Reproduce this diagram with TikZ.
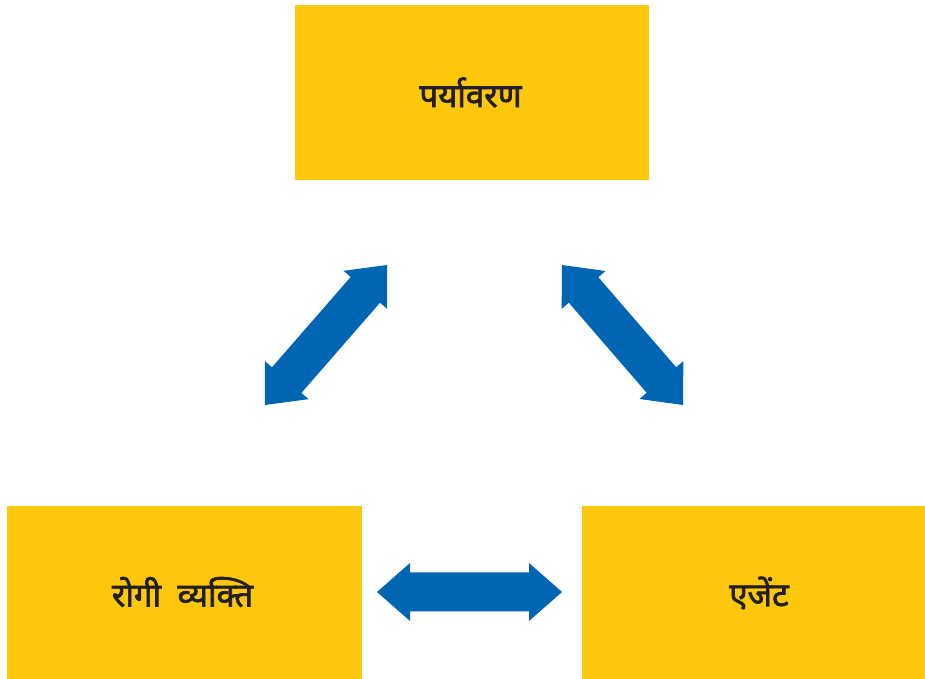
\documentclass[tikz,border=0pt]{standalone}
\usepackage{fontspec}
\newfontfamily\deva[Script=Devanagari, FakeBold=2.2]{Noto Sans}
\usetikzlibrary{calc}
\definecolor{boxyellow}{HTML}{FDC80C}
\definecolor{arrowblue}{HTML}{0066B3}
\definecolor{txt}{HTML}{231F20}
\tikzset{
  box/.style={fill=boxyellow, draw=none},
  lbl/.style={font=\deva\fontsize{33}{38}\selectfont, text=txt, inner sep=0pt},
}
\newcommand\dblblockarrow[2]{%
  \coordinate (#1h) at ($(#1)!33pt!(#2)$);
  \coordinate (#2h) at ($(#2)!33pt!(#1)$);
  \fill[arrowblue] (#1)
    -- ($(#1h)!29pt!90:(#2)$) -- ($(#1h)!19.5pt!90:(#2)$)
    -- ($(#2h)!19.5pt!90:(#2)$) -- ($(#2h)!29pt!90:(#2)$)
    -- (#2)
    -- ($(#2h)!29pt!-90:(#2)$) -- ($(#2h)!19.5pt!-90:(#2)$)
    -- ($(#1h)!19.5pt!-90:(#2)$) -- ($(#1h)!29pt!-90:(#2)$)
    -- cycle;}
\begin{document}
\begin{tikzpicture}[x=1pt,y=1pt]
\useasboundingbox (0,0) rectangle (925,679);
\fill[white] (0,0) rectangle (925,679);
% boxes
\path[box] (294.5,498.5) rectangle (649,674);
\path[box] (7.3,0) rectangle (361.7,173.3);
\path[box] (582.3,0) rectangle (925,173.3);
\node[lbl] (env) at (470.5,586.5) {पर्यावरण};
\node[lbl] (host) at (182.5,87) {रोगी\hspace{0.5em}व्यक्ति};
\node[lbl] (agent) at (759,86) {एजेंट};
% arrow endpoints
\coordinate (ha) at (377,87);
\coordinate (hb) at (562,87);
\coordinate (la) at (265,274);
\coordinate (lb) at (387,414);
\coordinate (ra) at (562,414);
\coordinate (rb) at (683,274);
\dblblockarrow{ha}{hb}
\dblblockarrow{la}{lb}
\dblblockarrow{ra}{rb}
\end{tikzpicture}
\end{document}
